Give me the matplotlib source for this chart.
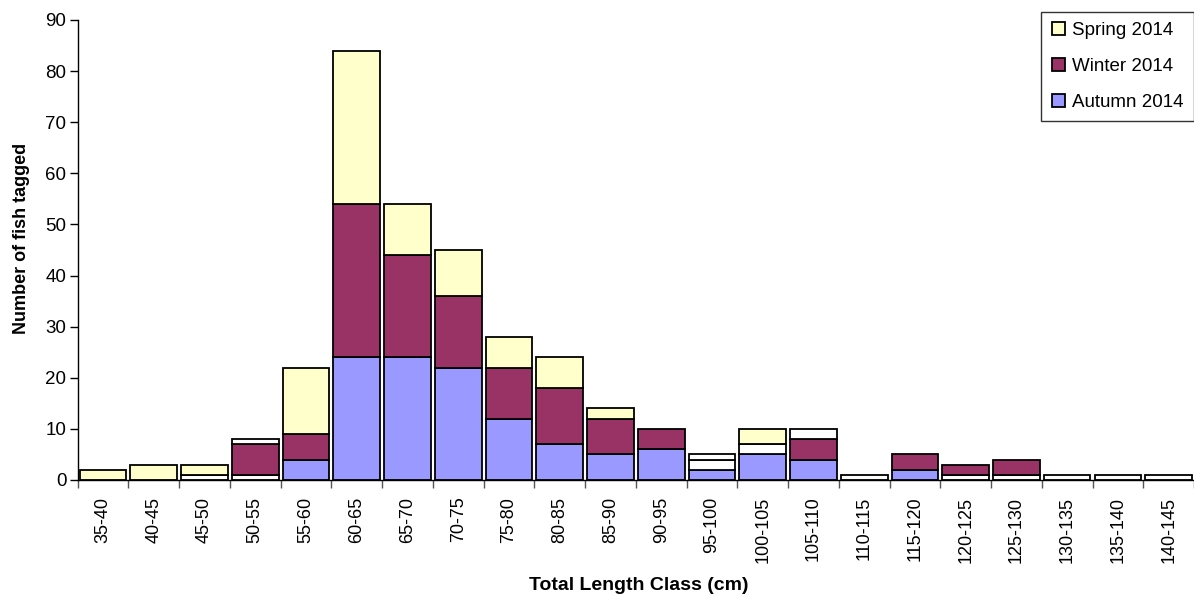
import matplotlib.pyplot as plt
import numpy as np

plt.rcParams['font.family'] = ['Liberation Sans', 'DejaVu Sans']

# length classes (cm)
classes = ['35-40', '40-45', '45-50', '50-55', '55-60', '60-65', '65-70', '70-75',
           '75-80', '80-85', '85-90', '90-95', '95-100', '100-105', '105-110',
           '110-115', '115-120', '120-125', '125-130', '130-135', '135-140', '140-145']

# stacked counts, bottom to top
autumn = [0, 0, 0, 0, 4, 24, 24, 22, 12, 7, 5, 6, 2, 5, 4, 0, 2, 0, 0, 0, 0, 0]
other1 = [0, 0, 1, 1, 0, 0, 0, 0, 0, 0, 0, 0, 2, 2, 0, 1, 0, 1, 1, 1, 1, 1]
winter = [0, 0, 0, 6, 5, 30, 20, 14, 10, 11, 7, 4, 0, 0, 4, 0, 3, 2, 3, 0, 0, 0]
other2 = [0, 0, 0, 1, 0, 0, 0, 0, 0, 0, 0, 0, 1, 0, 2, 0, 0, 0, 0, 0, 0, 0]
spring = [2, 3, 2, 0, 13, 30, 10, 9, 6, 6, 2, 0, 0, 3, 0, 0, 0, 0, 0, 0, 0, 0]

fig = plt.figure(figsize=(11.94, 5.97), dpi=100)
ax = fig.add_axes([0.065, 0.196, 0.935, 0.7705])

x = np.arange(len(classes))
w = 0.92
ekw = dict(edgecolor='black', linewidth=1.3)

series = [
    (autumn, '#9999ff', 'Autumn 2014'),
    (other1, '#ffffff', None),
    (winter, '#993366', 'Winter 2014'),
    (other2, '#ffffff', None),
    (spring, '#ffffcc', 'Spring 2014'),
]

bottom = np.zeros(len(classes))
handles = {}
for vals, col, lab in series:
    v = np.array(vals, dtype=float)
    mask = v > 0
    b = ax.bar(x[mask], v[mask], w, bottom=bottom[mask], color=col, **ekw)
    if lab:
        handles[lab] = b
    bottom += v

ax.set_xlim(-0.5, len(classes) - 0.5)
ax.set_ylim(0, 90)
ax.set_yticks(np.arange(0, 91, 10))
ax.set_xticks(x)
ax.set_xticklabels(classes, rotation=90)
ax.set_xticks(np.arange(-0.5, len(classes), 1), minor=True)
ax.tick_params(axis='x', which='major', length=0, pad=12, labelsize=13)
ax.tick_params(axis='x', which='minor', length=6, width=1, color='#555555')
ax.tick_params(axis='y', length=6, width=1, pad=2, labelsize=13.5)

ax.spines['top'].set_visible(False)
ax.spines['right'].set_visible(False)
ax.spines['left'].set_linewidth(1)
ax.spines['bottom'].set_linewidth(1)

ax.set_ylabel('Number of fish tagged', fontsize=13, fontweight='bold')
ax.set_xlabel('Total Length Class (cm)', fontsize=14, fontweight='bold')
ax.yaxis.set_label_coords(-0.043, 0.526)
ax.xaxis.set_label_coords(0.503, -0.21)

order = ['Spring 2014', 'Winter 2014', 'Autumn 2014']
leg = ax.legend([handles[k] for k in order], order, loc='upper right',
                bbox_to_anchor=(1.0, 1.018), fontsize=13.5, frameon=True, fancybox=False,
                handlelength=0.7, handleheight=0.7, handletextpad=0.4,
                borderpad=0.55, labelspacing=1.0, borderaxespad=0.0)
leg.get_frame().set_edgecolor('black')
leg.get_frame().set_linewidth(1)

fig.savefig('out.png', dpi=100)
